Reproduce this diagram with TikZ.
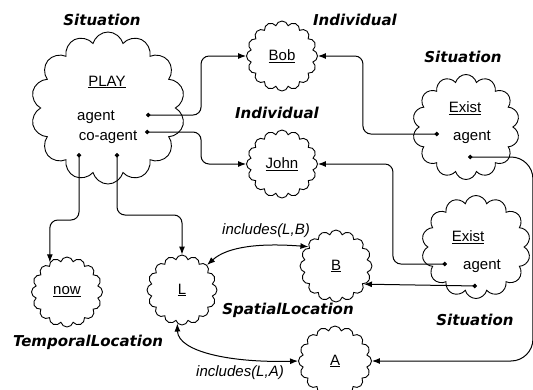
\documentclass[tikz,border=0pt]{standalone}
\usepackage{fontspec}
\setmainfont{Liberation Sans}
\newfontfamily\labfont{DejaVu Sans}
\usetikzlibrary{shapes.symbols,arrows.meta}
\begin{document}
\begin{tikzpicture}[x=1pt,y=-1pt,
  cloudbox/.style={cloud, draw, line width=0.9pt, cloud puffs=16, aspect=1, inner sep=0pt, font=\fontsize{15}{17}\selectfont},
  bigcloud/.style={cloudbox, cloud puffs=14},
  txt/.style={inner sep=0pt, font=\fontsize{15}{17}\selectfont},
  lab/.style={inner sep=0pt, font=\labfont\bfseries\itshape\fontsize{15}{17}\selectfont},
  rel/.style={inner sep=0pt, font=\itshape\fontsize{15}{17}\selectfont},
  conn/.style={line width=1pt, rounded corners=8pt, {Circle[length=4.5pt]}-{Latex[length=8pt,width=6pt]}},
  incl/.style={line width=1pt, {Latex[length=8pt,width=6pt]}-{Latex[length=8pt,width=6pt]}}
]
\useasboundingbox (0,0) rectangle (533,389);

% clouds
\node[bigcloud, minimum width=154pt, minimum height=152pt] (play) at (108,108) {};
\node[cloudbox, minimum width=71pt, minimum height=70pt] (bob) at (282,56) {\underline{Bob}};
\node[cloudbox, minimum width=71pt, minimum height=68pt] (john) at (282,164) {\underline{John}};
\node[bigcloud, minimum width=107pt, minimum height=105pt] (ex1) at (466,127) {};
\node[bigcloud, minimum width=109pt, minimum height=103pt] (ex2) at (476,247) {};
\node[cloudbox, minimum width=72pt, minimum height=72pt] (B) at (336,266) {\underline{B}};
\node[cloudbox, minimum width=73pt, minimum height=70pt] (A) at (335,361) {\underline{A}};
\node[cloudbox, minimum width=70pt, minimum height=70pt] (L) at (182,290) {\underline{L}};
\node[cloudbox, minimum width=71pt, minimum height=70pt] (now) at (67,292) {\underline{now}};

% slot texts
\node[txt] (playt) at (107,82) {\underline{PLAY}};
\node[txt] (pagent) at (96,117) {agent};
\node[txt] (pcoag) at (108,137) {co-agent};
\node[txt] (ex1t) at (465,108) {\underline{Exist}};
\node[txt] (ex1a) at (472,137) {agent};
\node[txt] (ex2t) at (468,237) {\underline{Exist}};
\node[txt] (ex2a) at (482,266) {agent};

% type labels
\node[lab] (l1) at (102,20) {Situation};
\node[lab] (l2) at (355,20) {Individual};
\node[lab] (l3) at (277,113) {Individual};
\node[lab] (l4) at (463,57) {Situation};
\node[lab] (l5) at (475,320) {Situation};
\node[lab] (l6) at (288,310) {SpatialLocation};
\node[lab] (l7) at (88,342) {TemporalLocation};
\node[rel] (r1) at (266,231) {includes(L,B)};
\node[rel] (r2) at (240,373) {includes(L,A)};

% slot dots
\coordinate (pad) at (146,115);
\coordinate (pcd) at (145,132);
\coordinate (pld) at (79,153);
\coordinate (prd) at (117,153);
\coordinate (e1ad) at (439,134);
\coordinate (e1bd) at (468,157);
\coordinate (e2ad) at (447,264);
\coordinate (e2bd) at (477,286);

% connectors
\draw[conn] (pad) -| ([xshift=-45pt]bob.west) -- (bob.west);
\draw[conn] (pcd) -| ([xshift=-45pt]john.west) -- (john.west);
\draw[conn] (pld) -- ++(0,67) -| (now.120);
\draw[conn] (prd) -- ++(0,62) -| (L.north);
\draw[conn] (e1ad) -| ([xshift=45pt]bob.east) -- (bob.east);
\draw[conn, rounded corners=22pt] (e1bd) -| ([xshift=161pt]A.east) -- (A.east);
\draw[conn] (e2ad) -| ([xshift=75pt]john.east) -- (john.east);
\draw[conn] (e2bd) -- (B.-33);
\draw[incl] (L.45) .. controls (228,246) and (262,243) .. (B.145);
\draw[incl] (L.262) .. controls (178,352) and (232,363) .. (A.west);
\end{tikzpicture}
\end{document}
